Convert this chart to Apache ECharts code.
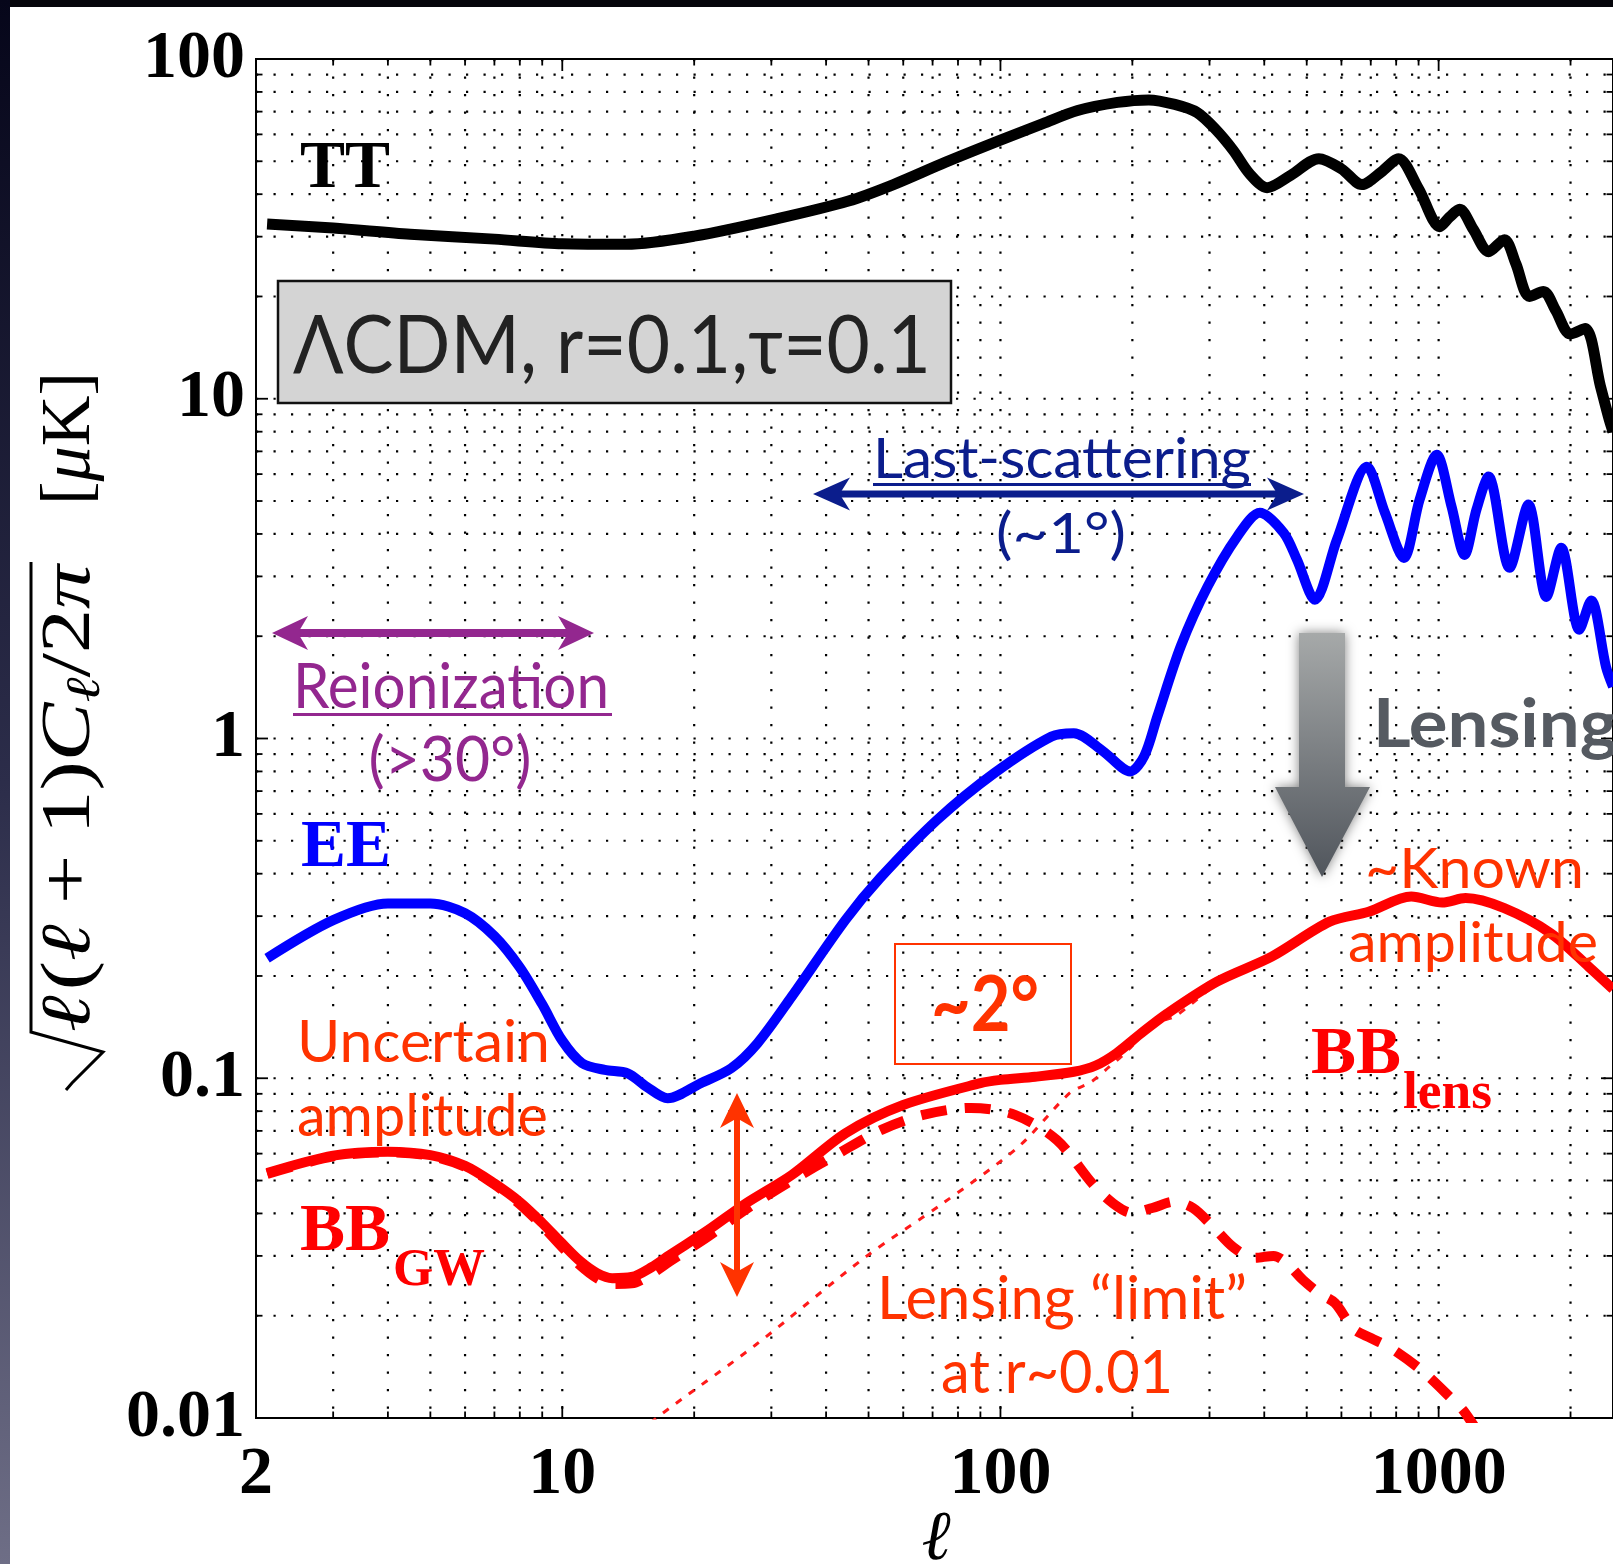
<!DOCTYPE html>
<html>
<head>
<meta charset="utf-8">
<script src="https://cdn.jsdelivr.net/npm/echarts@6/dist/echarts.min.js"></script>
<style>
  html, body { margin: 0; padding: 0; background: #ffffff; }
  #chart { width: 1613px; height: 1564px; }
</style>
</head>
<body>
<div id="chart"></div>
<script>
// Angular power spectra, sqrt(l(l+1)C_l/2pi) in microkelvin, against multipole l.

// Temperature (TT)
const ttEll = [2.12, 3, 4.5, 7, 10, 14, 20, 31, 45, 57, 75, 100, 125, 150, 185, 218, 250, 281, 310, 340, 370, 406, 460, 533, 600, 668, 740, 810, 900, 1006, 1060, 1117, 1200, 1300, 1413, 1500, 1611, 1734, 1850, 1996, 2160, 2340, 2450, 2500];
const ttAmp = [32.7, 31.8, 30.5, 29.5, 28.6, 28.5, 30.1, 33.9, 38.2, 42.7, 49.7, 57.7, 64.5, 70.5, 74.5, 75.8, 73.5, 69.6, 62.0, 53.8, 46.0, 41.8, 45.5, 50.9, 47.5, 42.7, 46.5, 50.9, 41.5, 32.1, 34.3, 36.1, 31.5, 27.1, 29.4, 25.0, 20.0, 20.7, 18.2, 15.5, 16.1, 10.9, 8.7, 8.0];

// E-mode polarization (EE)
const eeEll = [2.12, 3, 4, 5, 6, 7, 8, 9, 10, 11.1, 12.5, 14.1, 15.6, 17.4, 20.7, 24.3, 27.9, 33.4, 44.3, 53.1, 71.7, 96.8, 130.8, 147, 171, 198, 213, 228, 258, 297, 347, 391, 443, 475, 522, 586, 686, 754, 833, 905, 990, 1070, 1146, 1220, 1300, 1451, 1603, 1761, 1905, 2094, 2229, 2411, 2500];
const eeAmp = [0.2256, 0.292, 0.327, 0.327, 0.306, 0.262, 0.212, 0.165, 0.129, 0.1107, 0.1058, 0.1034, 0.0943, 0.0873, 0.0967, 0.107, 0.1268, 0.174, 0.2925, 0.388, 0.576, 0.791, 1.014, 1.037, 0.92, 0.80, 0.889, 1.16, 1.87, 2.80, 3.93, 4.62, 4.03, 3.36, 2.56, 3.85, 6.31, 4.62, 3.40, 5.05, 6.84, 4.82, 3.47, 4.72, 5.90, 3.18, 4.88, 2.61, 3.64, 2.09, 2.55, 1.62, 1.42];

// B-mode total (gravitational waves + lensing)
const bbEll = [2.12, 3, 4, 5, 6, 7, 8, 9, 10, 11, 12, 13, 14.4, 16, 17.6, 21.5, 26.3, 33.4, 44.3, 60, 90, 100, 120, 147, 165, 184, 210, 240, 312, 416, 564, 692, 866, 1019, 1152, 1412, 1803, 2200, 2500];
const bbAmp = [0.0526, 0.0592, 0.0608, 0.0594, 0.0552, 0.0490, 0.0432, 0.0375, 0.0326, 0.0289, 0.0267, 0.0258, 0.0260, 0.0278, 0.0302, 0.0357, 0.0429, 0.0519, 0.0689, 0.0834, 0.0967, 0.0989, 0.101, 0.1045, 0.109, 0.1185, 0.136, 0.155, 0.1925, 0.228, 0.289, 0.309, 0.3425, 0.329, 0.339, 0.3166, 0.267, 0.213, 0.183];

// B-mode from gravitational waves alone, r = 0.1
const gwEll = [2.12, 3, 4, 5, 6, 7, 8, 9, 10, 11, 12, 13, 14.4, 16, 17.6, 21.5, 26.3, 33.4, 42.9, 53.5, 66.6, 85.7, 107.9, 134.5, 162, 180, 199, 222, 249, 275, 303, 340, 380, 420, 451, 490, 536, 580, 640, 700, 782, 915, 1078, 1140, 1250];
const gwAmp = [0.0523, 0.0589, 0.0605, 0.0591, 0.0549, 0.0487, 0.0426, 0.0368, 0.0318, 0.0281, 0.0258, 0.0248, 0.0249, 0.0266, 0.0289, 0.0342, 0.0412, 0.0500, 0.0603, 0.0705, 0.0780, 0.0818, 0.0780, 0.0658, 0.0490, 0.0430, 0.0402, 0.0415, 0.0433, 0.0415, 0.0370, 0.0318, 0.0296, 0.0300, 0.0285, 0.0255, 0.0232, 0.0218, 0.0183, 0.0172, 0.0160, 0.0138, 0.0113, 0.0105, 0.0088];

// B-mode from lensing alone
const lensEll = [14, 16.4, 27.6, 49.4, 73.8, 110, 144, 161, 177, 193, 225, 250, 312, 416, 564, 692, 866, 1019, 1152, 1412, 1803, 2200, 2500];
const lensAmp = [0.0084, 0.0100, 0.0164, 0.0299, 0.0428, 0.0629, 0.0905, 0.0975, 0.108, 0.119, 0.145, 0.152, 0.189, 0.225, 0.286, 0.306, 0.339, 0.326, 0.336, 0.314, 0.265, 0.211, 0.181];

// Axis ticks, labels and dotted grid
const xTickLabels = [2, 10, 100, 1000];
const yTickLabels = [0.01, 0.1, 1, 10, 100];
const xGridLines = [3, 4, 5, 6, 7, 8, 9, 10, 20, 30, 40, 50, 60, 70, 80, 90, 100, 200, 300, 400, 500, 600, 700, 800, 900, 1000, 2000];
const yGridLines = [0.02, 0.03, 0.04, 0.05, 0.06, 0.07, 0.08, 0.09, 0.1, 0.2, 0.3, 0.4, 0.5, 0.6, 0.7, 0.8, 0.9, 1, 2, 3, 4, 5, 6, 7, 8, 9, 10, 20, 30, 40, 50, 60, 70, 80, 90];

const X_MIN = 2, X_MAX = 2500, Y_MIN = 0.01, Y_MAX = 100;
const MAJOR_TICK = 12, MINOR_TICK = 6.5;

const zip = (xs, ys) => xs.map((x, i) => [x, ys[i]]);
const isDecade = v => Math.abs(Math.log10(v) - Math.round(Math.log10(v))) < 1e-9;

// ---- text helpers: place text by its left edge and alphabetic baseline
const mctx = document.createElement('canvas').getContext('2d');
function measure(str, font) {
  mctx.font = font;
  mctx.textBaseline = 'middle';
  return {
    w: mctx.measureText(str).width,
    d: mctx.measureText('H').actualBoundingBoxDescent
  };
}
function txt(str, font, fill, x, baseline, width, align) {
  const m = measure(str, font);
  const sx = width ? width / m.w : 1;
  return {
    type: 'text', silent: true, z: 100,
    x: x, y: baseline - m.d, scaleX: sx,
    style: {
      text: str, font: font, fill: fill, x: 0, y: 0,
      align: align || 'left', textAlign: align || 'left',
      verticalAlign: 'middle', textVerticalAlign: 'middle'
    }
  };
}
function hline(x1, x2, y, color, w) {
  return { type: 'line', silent: true, z: 100, shape: { x1: x1, y1: y, x2: x2, y2: y }, style: { stroke: color, lineWidth: w } };
}
function hArrow(x1, x2, y, head, half, thick, color) {
  return [
    { type: 'rect', silent: true, z: 100, shape: { x: x1 + head * 0.7, y: y - thick / 2, width: (x2 - x1) - head * 1.4, height: thick }, style: { fill: color } },
    { type: 'polygon', silent: true, z: 100, shape: { points: [[x1, y], [x1 + head, y - half], [x1 + head * 0.72, y], [x1 + head, y + half]] }, style: { fill: color } },
    { type: 'polygon', silent: true, z: 100, shape: { points: [[x2, y], [x2 - head, y - half], [x2 - head * 0.72, y], [x2 - head, y + half]] }, style: { fill: color } }
  ];
}
function vArrow(x, y1, y2, head, half, thick, color) {
  return [
    { type: 'rect', silent: true, z: 100, shape: { x: x - thick / 2, y: y1 + head * 0.7, width: thick, height: (y2 - y1) - head * 1.4 }, style: { fill: color } },
    { type: 'polygon', silent: true, z: 100, shape: { points: [[x, y1], [x - half, y1 + head], [x, y1 + head * 0.72], [x + half, y1 + head]] }, style: { fill: color } },
    { type: 'polygon', silent: true, z: 100, shape: { points: [[x, y2], [x - half, y2 - head], [x, y2 - head * 0.72], [x + half, y2 - head]] }, style: { fill: color } }
  ];
}
// a run of text pieces laid along a line, rotated to read bottom-to-top
function verticalRun(pieces, px, py, len) {
  let x = 0;
  const kids = [];
  pieces.forEach(p => {
    x += p.gap || 0;
    const m = measure(p.t, p.font);
    kids.push({
      type: 'text', silent: true, x: x, y: (p.dy || 0) - m.d,
      style: { text: p.t, font: p.font, fill: '#000', x: 0, y: 0, align: 'left', textAlign: 'left', verticalAlign: 'middle', textVerticalAlign: 'middle' }
    });
    x += m.w;
  });
  return { type: 'group', silent: true, z: 100, x: px, y: py, rotation: Math.PI / 2, scaleX: len / x, children: kids };
}

// ---- fonts and colours
const SERIF_B = 'bold 68px "Liberation Serif"';
const SUB_B = 'bold 52px "Liberation Serif"';
const SANS = '"Lato", "Noto Sans", sans-serif';
const RED_TXT = '#ff3300';
const NAVY = '#0b1d8c';
const PURPLE = '#93278f';

const MI = 'italic 70px "Liberation Serif"';
const MR = '70px "Liberation Serif"';
const MS = 'italic 48px "Liberation Serif"';

const annotations = [
  // slide frame
  { type: 'rect', silent: true, z: 120, shape: { x: 0, y: 0, width: 1613, height: 7 }, style: { fill: '#05050b' } },
  { type: 'rect', silent: true, z: 120, shape: { x: 0, y: 0, width: 10, height: 1564 },
    style: { fill: { type: 'linear', x: 0, y: 0, x2: 0, y2: 1, colorStops: [{ offset: 0, color: '#06061a' }, { offset: 0.5, color: '#2c2d4a' }, { offset: 1, color: '#6e6e86' }] } } },

  // model box
  { type: 'rect', silent: true, z: 100, shape: { x: 278, y: 281, width: 673, height: 122 }, style: { fill: '#d4d4d4', stroke: '#111', lineWidth: 2.5 } },
  txt('ΛCDM, r=0.1,τ=0.1', '82px ' + SANS, '#222222', 293, 373, 638),

  // curve names
  txt('TT', SERIF_B, '#000000', 300, 187, 90),
  txt('EE', SERIF_B, '#0000ff', 301, 866, 90),
  txt('BB', SERIF_B, '#ff0000', 300, 1250, 90),
  txt('GW', SUB_B, '#ff0000', 393, 1285, 92),
  txt('BB', SERIF_B, '#ff0000', 1311, 1073, 90),
  txt('lens', SUB_B, '#ff0000', 1403, 1108, 89),

  // last scattering
  txt('Last-scattering', '57px ' + SANS, NAVY, 873, 478, 378),
  hline(873, 1251, 484.5, NAVY, 3),
  ...hArrow(813, 1304, 494, 37, 16.5, 7, NAVY),
  txt('(~1°)', '57px ' + SANS, NAVY, 1061, 553, 130, 'center'),

  // reionization
  ...hArrow(272, 594, 633, 36, 17, 8, PURPLE),
  txt('Reionization', '62px ' + SANS, PURPLE, 293, 708, 316),
  hline(293, 612, 714.5, PURPLE, 3),
  txt('(>30°)', '62px ' + SANS, PURPLE, 450, 781, 163, 'center'),

  // B-mode amplitude notes
  txt('Uncertain', '59px ' + SANS, RED_TXT, 297, 1062, 253),
  txt('amplitude', '59px ' + SANS, RED_TXT, 297, 1136, 251),
  ...vArrow(737, 1093, 1297, 35, 17, 6, RED_TXT),
  { type: 'rect', silent: true, z: 100, shape: { x: 895, y: 944, width: 176, height: 120 }, style: { fill: 'none', stroke: RED_TXT, lineWidth: 2 } },
  txt('~2°', 'bold 76px ' + SANS, RED_TXT, 931, 1031, 108),
  txt('Lensing “limit”', '60px ' + SANS, RED_TXT, 877, 1319, 370),
  txt('at r~0.01', '60px ' + SANS, RED_TXT, 941, 1393, 232),
  txt('~Known', '56px ' + SANS, RED_TXT, 1365, 888, 219),
  txt('amplitude', '56px ' + SANS, RED_TXT, 1348, 962, 250),

  // lensing arrow
  { type: 'polygon', silent: true, z: 100,
    shape: { points: [[1299, 633], [1345, 633], [1345, 787], [1370, 787], [1322, 877], [1275, 787], [1299, 787]] },
    style: { fill: { type: 'linear', x: 0, y: 0, x2: 0, y2: 1, colorStops: [{ offset: 0, color: '#a6a9a9' }, { offset: 1, color: '#50555c' }] },
             shadowBlur: 12, shadowColor: 'rgba(0,0,0,0.5)' } },
  txt('Lensing', 'bold 66px ' + SANS, '#555a61', 1373, 747, 245),

  // axis titles
  txt('ℓ', 'italic 70px "Liberation Serif"', '#000000', 936, 1559, 0, 'center'),
  { type: 'polyline', silent: true, z: 100, shape: { points: [[66, 1090], [72, 1083], [103, 1052], [31, 1032], [31, 562]] },
    style: { stroke: '#000', lineWidth: 3, fill: 'none', lineJoin: 'miter' } },
  verticalRun([
    { t: 'ℓ', font: MI }, { t: '(', font: MR, gap: 4 }, { t: 'ℓ', font: MI }, { t: '+', font: MR, gap: 16 },
    { t: '1', font: MR, gap: 16 }, { t: ')', font: MR }, { t: 'C', font: MI }, { t: 'ℓ', font: MS, dy: 10 },
    { t: '/', font: MR }, { t: '2', font: MR }, { t: 'π', font: MI }
  ], 89, 1032, 467),
  verticalRun([
    { t: '[', font: MR }, { t: 'μ', font: MI }, { t: 'K', font: MR }, { t: ']', font: MR }
  ], 89, 505, 133)
];

const DOT = { stroke: '#000', lineWidth: 2.2, lineDash: [2.2, 15.3] };
function renderXGrid(params, api) {
  const v = api.value(0);
  const a = api.coord([v, Y_MAX]);
  const b = api.coord([v, Y_MIN]);
  const t = isDecade(v) ? MAJOR_TICK : MINOR_TICK;
  return { type: 'group', children: [
    { type: 'line', shape: { x1: a[0], y1: a[1], x2: b[0], y2: b[1] }, style: DOT },
    { type: 'line', shape: { x1: b[0], y1: b[1], x2: b[0], y2: b[1] - t }, style: { stroke: '#000', lineWidth: 1.8 } },
    { type: 'line', shape: { x1: a[0], y1: a[1], x2: a[0], y2: a[1] + t }, style: { stroke: '#000', lineWidth: 1.8 } }
  ] };
}
function renderYGrid(params, api) {
  const v = api.value(1);
  const a = api.coord([X_MIN, v]);
  const b = api.coord([X_MAX, v]);
  const t = isDecade(v) ? MAJOR_TICK : MINOR_TICK;
  return { type: 'group', children: [
    { type: 'line', shape: { x1: a[0], y1: a[1], x2: b[0], y2: b[1] }, style: DOT },
    { type: 'line', shape: { x1: a[0], y1: a[1], x2: a[0] + t, y2: a[1] }, style: { stroke: '#000', lineWidth: 1.8 } },
    { type: 'line', shape: { x1: b[0], y1: b[1], x2: b[0] - t, y2: b[1] }, style: { stroke: '#000', lineWidth: 1.8 } }
  ] };
}

const labelFont = { color: '#000', fontFamily: '"Liberation Serif"', fontWeight: 'bold', fontSize: 68 };
const fmt = v => String(+Number(v).toPrecision(6));

const option = {
  animation: false,
  backgroundColor: '#ffffff',
  grid: { left: 256, top: 59, width: 1361, height: 1359, show: true, borderColor: '#000', borderWidth: 2, backgroundColor: 'transparent' },
  xAxis: {
    type: 'log', logBase: 10, min: X_MIN, max: X_MAX,
    axisLine: { show: false }, axisTick: { show: false }, splitLine: { show: false },
    axisLabel: Object.assign({ customValues: xTickLabels, formatter: fmt, margin: 23 }, labelFont)
  },
  yAxis: {
    type: 'log', logBase: 10, min: Y_MIN, max: Y_MAX,
    axisLine: { show: false }, axisTick: { show: false }, splitLine: { show: false },
    axisLabel: Object.assign({ customValues: yTickLabels, formatter: fmt, margin: 11 }, labelFont)
  },
  series: [
    { type: 'custom', name: 'xgrid', silent: true, z: 1, clip: false, renderItem: renderXGrid,
      encode: { x: 0, y: 1 }, data: xGridLines.map(v => [v, Y_MIN]) },
    { type: 'custom', name: 'ygrid', silent: true, z: 1, clip: false, renderItem: renderYGrid,
      encode: { x: 0, y: 1 }, data: yGridLines.map(v => [X_MIN, v]) },
    { type: 'line', name: 'BB lensing', data: zip(lensEll, lensAmp), symbol: 'none', smooth: 0.3, clip: true, silent: true, z: 3,
      lineStyle: { color: '#ff1a1a', width: 3, type: [7, 9], cap: 'butt' } },
    { type: 'line', name: 'BB GW', data: zip(gwEll, gwAmp), symbol: 'none', smooth: 0.3, clip: true, silent: true, z: 4,
      lineStyle: { color: '#ff0000', width: 10, type: [26, 18], cap: 'butt' } },
    { type: 'line', name: 'BB', data: zip(bbEll, bbAmp), symbol: 'none', smooth: 0.3, clip: true, silent: true, z: 5,
      lineStyle: { color: '#ff0000', width: 10, cap: 'butt', join: 'round' } },
    { type: 'line', name: 'EE', data: zip(eeEll, eeAmp), symbol: 'none', smooth: 0.3, clip: true, silent: true, z: 5,
      lineStyle: { color: '#0000ff', width: 10, cap: 'butt', join: 'round' } },
    { type: 'line', name: 'TT', data: zip(ttEll, ttAmp), symbol: 'none', smooth: 0.3, clip: true, silent: true, z: 5,
      lineStyle: { color: '#000000', width: 11, cap: 'butt', join: 'round' } }
  ],
  graphic: { elements: annotations }
};

const chart = echarts.init(document.getElementById('chart'), null, { renderer: 'canvas', width: 1613, height: 1564 });
chart.setOption(option);
</script>
</body>
</html>
